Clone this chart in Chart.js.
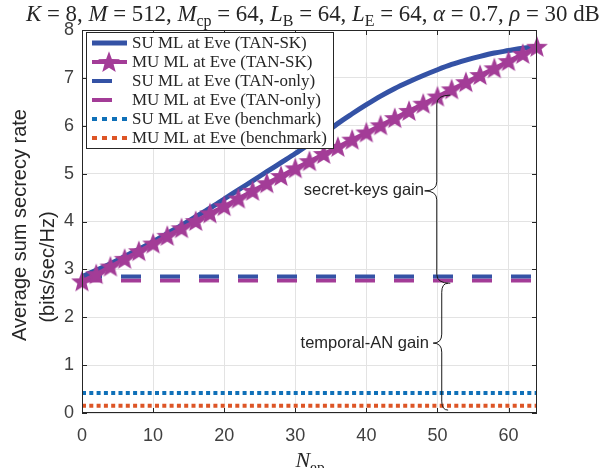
<!DOCTYPE html>
<html>
<head>
<meta charset="utf-8">
<script src="https://cdn.jsdelivr.net/npm/chart.js@4.4.0/dist/chart.umd.min.js"></script>
<style>
  html, body { margin: 0; padding: 0; background: #fff; }
</style>
</head>
<body>
<canvas id="chart" width="603" height="468"></canvas>
<script>
// ---- data ----
const nEp = [0, 2, 4, 6, 8, 10, 12, 14, 16, 18, 20, 22, 24, 26, 28, 30, 32,
             34, 36, 38, 40, 42, 44, 46, 48, 50, 52, 54, 56, 58, 60, 62, 64];
const suTanSk = [2.85, 2.98, 3.12, 3.27, 3.42, 3.58, 3.75, 3.92, 4.10, 4.28, 4.47,
                 4.66, 4.85, 5.04, 5.23, 5.42, 5.62, 5.82, 6.05, 6.25, 6.44, 6.62,
                 6.78, 6.92, 7.05, 7.17, 7.28, 7.37, 7.45, 7.52, 7.57, 7.62, 7.65];
const muTanSk = [2.75, 2.90, 3.06, 3.22, 3.38, 3.54, 3.70, 3.86, 4.01, 4.17, 4.32,
                 4.48, 4.64, 4.80, 4.95, 5.11, 5.26, 5.41, 5.56, 5.71, 5.86, 6.01,
                 6.16, 6.31, 6.46, 6.61, 6.76, 6.91, 7.06, 7.20, 7.35, 7.50, 7.65];
const flatN = [0, 64];
const suTanOnly = [2.85, 2.85];
const muTanOnly = [2.77, 2.77];
const suBench = [0.42, 0.42];
const muBench = [0.15, 0.15];
const xTicks = [0, 10, 20, 30, 40, 50, 60];
const yTicks = [0, 1, 2, 3, 4, 5, 6, 7, 8];
const seriesLabels = ['SU ML at Eve (TAN-SK)', 'MU ML at Eve (TAN-SK)',
                      'SU ML at Eve (TAN-only)', 'MU ML at Eve (TAN-only)',
                      'SU ML at Eve (benchmark)', 'MU ML at Eve (benchmark)'];

const BLUE = '#3452a5';
const MAGENTA = '#a33c97';
const BENCH_BLUE = '#0f70b8';
const BENCH_ORANGE = '#dd5526';
const AXIS = '#262626';

function toPoints(xs, ys) {
  return xs.map((x, i) => ({ x: x, y: ys[i] }));
}

// filled five-point star used as marker
function drawStar(ctx, cx, cy, R, color) {
  const r = R * 0.42;
  ctx.beginPath();
  for (let k = 0; k < 10; k++) {
    const rad = k % 2 === 0 ? R : r;
    const a = -Math.PI / 2 + k * Math.PI / 5;
    const px = cx + rad * Math.cos(a), py = cy + rad * Math.sin(a);
    if (k === 0) ctx.moveTo(px, py); else ctx.lineTo(px, py);
  }
  ctx.closePath();
  ctx.fillStyle = color;
  ctx.fill();
}
const starImg = document.createElement('canvas');
starImg.width = 26; starImg.height = 26;
drawStar(starImg.getContext('2d'), 13, 13.8, 11.5, MAGENTA);

// rich text: italic variables, roman text, subscripts
function richWidth(ctx, parts, size) {
  let w = 0;
  parts.forEach(p => {
    const s = p.sub ? size * 0.7 : size;
    ctx.font = (p.i ? 'italic ' : '') + s + 'px "Liberation Serif"';
    w += ctx.measureText(p.t).width;
  });
  return w;
}
function drawRich(ctx, parts, x, y, size) {
  parts.forEach(p => {
    const s = p.sub ? size * 0.7 : size;
    ctx.font = (p.i ? 'italic ' : '') + s + 'px "Liberation Serif"';
    ctx.fillText(p.t, x, p.sub ? y + size * 0.22 : y);
    x += ctx.measureText(p.t).width;
  });
}

const titleParts = [
  { t: 'K', i: true }, { t: ' = 8, ' },
  { t: 'M', i: true }, { t: ' = 512, ' },
  { t: 'M', i: true }, { t: 'cp', sub: true }, { t: ' = 64, ' },
  { t: 'L', i: true }, { t: 'B', sub: true }, { t: ' = 64, ' },
  { t: 'L', i: true }, { t: 'E', sub: true }, { t: ' = 64, ' },
  { t: 'α', i: true }, { t: ' = 0.7, ' },
  { t: 'ρ', i: true }, { t: ' = 30 dB' }
];

function drawBrace(ctx, xEnd, xV, xTip, yTop, yMid, yBot) {
  const r = 9;
  ctx.beginPath();
  ctx.moveTo(xEnd, yTop);
  ctx.quadraticCurveTo(xV, yTop, xV, yTop + r);
  ctx.lineTo(xV, yMid - r);
  ctx.quadraticCurveTo(xV, yMid, xTip, yMid);
  ctx.quadraticCurveTo(xV, yMid, xV, yMid + r);
  ctx.lineTo(xV, yBot - r);
  ctx.quadraticCurveTo(xV, yBot, xEnd, yBot);
  ctx.stroke();
}

const decorPlugin = {
  id: 'decor',
  afterDraw(chart) {
    const ctx = chart.ctx;
    const a = chart.chartArea;
    const xs = chart.scales.x, ys = chart.scales.y;
    ctx.save();

    // box + inward ticks on all sides
    ctx.strokeStyle = AXIS;
    ctx.lineWidth = 1;
    ctx.strokeRect(a.left + 0.5, a.top + 0.5, a.right - a.left - 1, a.bottom - a.top - 1);
    ctx.beginPath();
    xTicks.forEach(v => {
      const px = Math.round(xs.getPixelForValue(v)) + 0.5;
      ctx.moveTo(px, a.bottom); ctx.lineTo(px, a.bottom - 5);
      ctx.moveTo(px, a.top); ctx.lineTo(px, a.top + 5);
    });
    yTicks.forEach(v => {
      const py = Math.round(ys.getPixelForValue(v)) + 0.5;
      ctx.moveTo(a.left, py); ctx.lineTo(a.left + 5, py);
      ctx.moveTo(a.right, py); ctx.lineTo(a.right - 5, py);
    });
    ctx.stroke();

    // annotations: braces + text
    ctx.strokeStyle = '#1a1a1a';
    ctx.lineWidth = 1;
    const X = v => xs.getPixelForValue(v), Y = v => ys.getPixelForValue(v);
    drawBrace(ctx, X(51.8), X(49.9), X(48.2), Y(6.64), Y(4.64), Y(2.71));
    drawBrace(ctx, X(51.5), X(50.6), X(49.4), Y(2.71), Y(1.46), Y(0.06));
    ctx.fillStyle = AXIS;
    ctx.font = '16.5px "Liberation Sans"';
    ctx.textAlign = 'right';
    ctx.textBaseline = 'middle';
    ctx.fillText('secret-keys gain', X(48.1), Y(4.64));
    ctx.fillText('temporal-AN gain', X(48.8), Y(1.46));

    // legend
    const lx = 86, ly = 32, lw = 247, lh = 116;
    ctx.fillStyle = '#fff';
    ctx.fillRect(lx, ly, lw, lh);
    ctx.strokeStyle = AXIS;
    ctx.strokeRect(lx + 0.5, ly + 0.5, lw, lh);
    ctx.textAlign = 'left';
    ctx.textBaseline = 'middle';
    ctx.font = '16px "Liberation Serif"';
    const legSize = 16 * 195 / ctx.measureText(seriesLabels[5]).width;
    ctx.font = legSize + 'px "Liberation Serif"';
    const order = [0, 1, 2, 3, 4, 5];
    order.forEach((di, row) => {
      const ds = chart.data.datasets[di];
      const y = Math.round(42.5 + row * 19.1);
      ctx.save();
      ctx.strokeStyle = ds.borderColor;
      ctx.lineWidth = ds.borderWidth;
      ctx.lineCap = 'butt';
      if (di >= 4) ctx.setLineDash([5, 5]);
      else ctx.setLineDash(ds.borderDash || []);
      ctx.beginPath();
      ctx.moveTo(92, y); ctx.lineTo(127, y);
      ctx.stroke();
      ctx.restore();
      if (di === 1) drawStar(ctx, 109, y + 0.8, 11.5, MAGENTA);
      ctx.fillStyle = AXIS;
      ctx.fillText(ds.label, 132, y + 1);
    });

    // title
    ctx.fillStyle = AXIS;
    ctx.textBaseline = 'alphabetic';
    ctx.textAlign = 'left';
    let size = 22;
    const w = richWidth(ctx, titleParts, size);
    size = size * 574 / w;
    drawRich(ctx, titleParts, 26, 21, size);

    // x title
    const xt = [{ t: 'N', i: true }, { t: 'ep', sub: true }];
    const xw = richWidth(ctx, xt, 22);
    drawRich(ctx, xt, 310 - xw / 2, 467, 22);

    // y title (two lines, rotated)
    ctx.font = '20px "Liberation Sans"';
    ctx.textAlign = 'center';
    ctx.textBaseline = 'middle';
    ctx.fillStyle = AXIS;
    ctx.save();
    ctx.translate(20, 225); ctx.rotate(-Math.PI / 2);
    ctx.fillText('Average sum secrecy rate', 0, 0);
    ctx.restore();
    ctx.save();
    ctx.translate(48, 267); ctx.rotate(-Math.PI / 2);
    ctx.fillText('(bits/sec/Hz)', 0, 0);
    ctx.restore();

    ctx.restore();
  }
};

const ctx = document.getElementById('chart').getContext('2d');
const chart = new Chart(ctx, {
  type: 'line',
  data: {
    datasets: [
      {
        label: seriesLabels[0], data: toPoints(nEp, suTanSk),
        borderColor: BLUE, borderWidth: 5, pointRadius: 0, order: 1,
        cubicInterpolationMode: 'monotone'
      },
      {
        label: seriesLabels[1], data: toPoints(nEp, muTanSk),
        borderColor: MAGENTA, borderWidth: 4, pointStyle: starImg,
        pointRadius: 11, order: 0, clip: false
      },
      {
        label: seriesLabels[2], data: toPoints(flatN, suTanOnly),
        borderColor: BLUE, borderWidth: 4, borderDash: [20, 19], pointRadius: 0, order: 2
      },
      {
        label: seriesLabels[3], data: toPoints(flatN, muTanOnly),
        borderColor: MAGENTA, borderWidth: 4, borderDash: [20, 19], pointRadius: 0, order: 3
      },
      {
        label: seriesLabels[4], data: toPoints(flatN, suBench),
        borderColor: BENCH_BLUE, borderWidth: 4, borderDash: [4, 3.3], pointRadius: 0, order: 4
      },
      {
        label: seriesLabels[5], data: toPoints(flatN, muBench),
        borderColor: BENCH_ORANGE, borderWidth: 4, borderDash: [4, 3.3], pointRadius: 0, order: 5
      }
    ]
  },
  options: {
    responsive: false,
    animation: false,
    layout: { padding: { left: 0, top: 30, right: 66, bottom: 0 } },
    plugins: { legend: { display: false }, tooltip: { enabled: false } },
    scales: {
      x: {
        type: 'linear', min: 0, max: 64,
        afterFit: s => { s.height = 55; },
        afterBuildTicks: s => { s.ticks = xTicks.map(v => ({ value: v })); },
        ticks: { padding: 12, color: '#404040', font: { family: 'Liberation Sans', size: 18 }, maxRotation: 0 },
        grid: { color: '#e3e3e3', drawTicks: false },
        border: { display: false }
      },
      y: {
        type: 'linear', min: 0, max: 8,
        afterFit: s => { s.width = 82; },
        afterBuildTicks: s => { s.ticks = yTicks.map(v => ({ value: v })); },
        ticks: { padding: 8, color: '#404040', font: { family: 'Liberation Sans', size: 18 } },
        grid: { color: '#e3e3e3', drawTicks: false },
        border: { display: false }
      }
    }
  },
  plugins: [decorPlugin]
});
</script>
</body>
</html>
